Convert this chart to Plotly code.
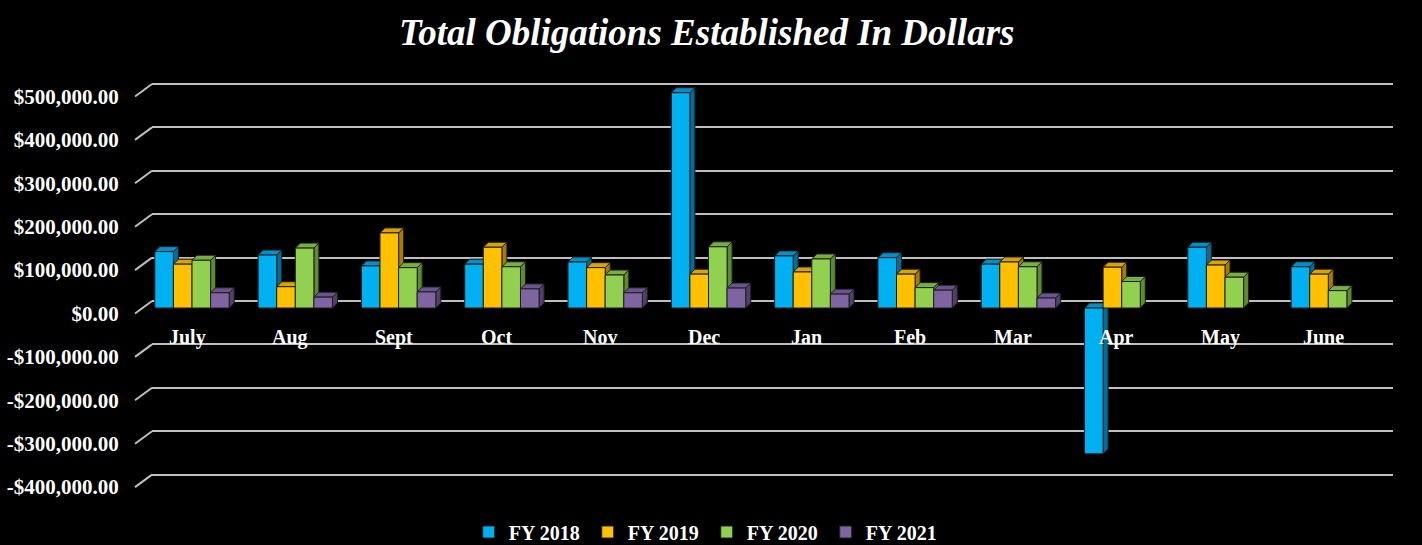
import plotly.graph_objects as go

# ---------------- data ----------------
months = ["July", "Aug", "Sept", "Oct", "Nov", "Dec", "Jan", "Feb", "Mar", "Apr", "May", "June"]
fy2018 = [130000, 122000, 97000, 101000, 106000, 496000, 120000, 116000, 101000, -336000, 140000, 95000]
fy2019 = [101000, 49000, 173000, 140000, 93000, 78000, 83000, 78000, 106000, 94000, 99000, 78000]
fy2020 = [110000, 138000, 93000, 95000, 76000, 141000, 113000, 47000, 95000, 61000, 71000, 40000]
fy2021 = [35000, 25000, 37000, 44000, 35000, 46000, 32000, 41000, 23000, None, None, None]
series_names = ["FY 2018", "FY 2019", "FY 2020", "FY 2021"]
tick_vals = [500000, 400000, 300000, 200000, 100000, 0, -100000, -200000, -300000, -400000]

# ---------------- style ----------------
front_colors = ["#00B0F0", "#FFC000", "#92D050", "#8064A2"]
side_colors = ["#006E98", "#A67C00", "#5E8A30", "#50406A"]
top_colors = ["#0090C8", "#D9A300", "#78B040", "#6A5490"]
outline = "#1E1E1E"
FONT = "Liberation Serif, Times New Roman, serif"

W, H = 1422, 545
ML, MR, MT, MB = 152, 29, 70, 45
plot_w = W - ML - MR
plot_h = H - MT - MB
px_per_unit_y = 43.4 / 100000.0   # pixels per dollar
zero_px = 308 - MT                 # front-plane zero, from plot top
back_shift = 7                     # back wall is higher by this many px
label_shift = 5.5                  # tick labels sit a little lower

front_hi = zero_px / px_per_unit_y
front_lo = -(plot_h - zero_px) / px_per_unit_y
front_range = [front_lo, front_hi]
bs = back_shift / px_per_unit_y
back_range = [front_lo - bs, front_hi - bs]
ls = label_shift / px_per_unit_y
label_range = [front_lo + ls, front_hi + ls]

px_per_cat = 103.3
x0 = -(192 - ML) / px_per_cat
x_range = [x0, x0 + plot_w / px_per_cat]

bar_w = 0.18
offsets = [-0.36, -0.18, 0.0, 0.18]
depth_x = 5 / px_per_cat
depth_y = 5 / px_per_unit_y


def money(v):
    s = "${:,.2f}".format(abs(v))
    return "-" + s if v < 0 else s


fig = go.Figure()

# invisible anchor traces for base subplot / label axis
fig.add_trace(go.Scatter(x=[None], y=[None], xaxis="x", yaxis="y", showlegend=False, hoverinfo="skip"))
fig.add_trace(go.Scatter(x=[None], y=[None], xaxis="x", yaxis="y4", showlegend=False, hoverinfo="skip"))

all_series = [fy2018, fy2019, fy2020, fy2021]

# 3D faces (drawn beneath the fronts)
for k, vals in enumerate(all_series):
    sx, sy, tx, ty = [], [], [], []
    for i, v in enumerate(vals):
        if v is None:
            continue
        xl = i + offsets[k]
        xr = xl + bar_w
        top = max(v, 0)
        bot = min(v, 0)
        sx += [xr, xr, xr + depth_x, xr + depth_x, xr, None]
        sy += [bot, top, top + depth_y, bot + depth_y, bot, None]
        tx += [xl, xr, xr + depth_x, xl + depth_x, xl, None]
        ty += [top, top, top + depth_y, top + depth_y, top, None]
    fig.add_trace(go.Scatter(x=sx, y=sy, mode="lines", fill="toself", fillcolor=side_colors[k],
                             line=dict(color=outline, width=1), xaxis="x2", yaxis="y2",
                             showlegend=False, hoverinfo="skip"))
    fig.add_trace(go.Scatter(x=tx, y=ty, mode="lines", fill="toself", fillcolor=top_colors[k],
                             line=dict(color=outline, width=1), xaxis="x2", yaxis="y2",
                             showlegend=False, hoverinfo="skip"))

# front faces
for k, vals in enumerate(all_series):
    fig.add_trace(go.Bar(x=list(range(len(months))), y=vals, name=series_names[k],
                         width=bar_w, offset=offsets[k],
                         marker=dict(color=front_colors[k], line=dict(color=outline, width=1)),
                         xaxis="x3", yaxis="y3"))

# category labels at the zero line
for i, m in enumerate(months):
    fig.add_annotation(x=i, y=0, xref="x3", yref="y3", text=m, showarrow=False,
                       xshift=-5, yshift=-29,
                       font=dict(family=FONT, size=20, color="white", weight="bold"))

# small slanted stubs at left of each gridline
for t in tick_vals:
    fig.add_shape(type="line", xref="paper", yref="y", xsizemode="pixel", ysizemode="pixel",
                  xanchor=0, yanchor=t, x0=-17, x1=0, y0=-12.5, y1=0,
                  line=dict(color="#BFBFBF", width=2), layer="below")

axis_hidden = dict(showgrid=False, zeroline=False, showticklabels=False, showline=False, ticks="")

fig.update_layout(
    width=W, height=H,
    margin=dict(l=ML, r=MR, t=MT, b=MB, autoexpand=False),
    paper_bgcolor="black", plot_bgcolor="black",
    barmode="overlay",
    title=dict(text="<b><i>Total Obligations Established In Dollars</i></b>",
               x=0.497, xanchor="center", y=1 - 32 / H, yanchor="middle",
               font=dict(family=FONT, size=37, color="white")),
    xaxis=dict(range=[0, 1], **axis_hidden),
    yaxis=dict(range=back_range, tickvals=tick_vals, showgrid=True, gridcolor="#BFBFBF",
               gridwidth=2, zeroline=False, showticklabels=False, ticks="", showline=False),
    xaxis2=dict(range=x_range, overlaying="x", anchor="y2", **axis_hidden),
    yaxis2=dict(range=front_range, overlaying="y", anchor="x2", **axis_hidden),
    xaxis3=dict(range=x_range, overlaying="x", anchor="y3", **axis_hidden),
    yaxis3=dict(range=front_range, overlaying="y", anchor="x3", **axis_hidden),
    yaxis4=dict(range=label_range, overlaying="y", anchor="x", side="left",
                tickvals=tick_vals, ticktext=[money(t) for t in tick_vals],
                showgrid=False, zeroline=False, showline=False,
                ticks="outside", ticklen=28, tickcolor="rgba(0,0,0,0)",
                tickfont=dict(family=FONT, size=21, color="white", weight="bold")),
    legend=dict(orientation="h", x=0.447, xanchor="center",
                yref="container", y=1 - 532 / H, yanchor="middle",
                font=dict(family=FONT, size=20, color="white", weight="bold"),
                itemwidth=30, entrywidth=74, entrywidthmode="pixels",
                bgcolor="rgba(0,0,0,0)"),
    showlegend=True,
)

fig.write_html(
    "out.html",
    config={"displayModeBar": False},
    post_script="document.body.style.margin='0';document.body.style.overflow='hidden';"
                "document.documentElement.style.overflow='hidden';",
)
